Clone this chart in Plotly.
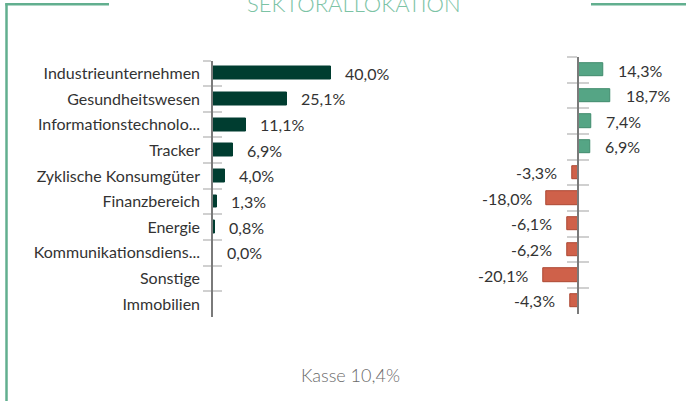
import plotly.graph_objects as go

W, H = 686, 401

categories = ["Industrieunternehmen", "Gesundheitswesen", "Informationstechnolo...",
              "Tracker", "Zyklische Konsumgüter", "Finanzbereich", "Energie",
              "Kommunikationsdiens...", "Sonstige", "Immobilien"]
fund_values = [40.0, 25.1, 11.1, 6.9, 4.0, 1.3, 0.8, 0.04, None, None]
diff_values = [14.3, 18.7, 7.4, 6.9, -3.3, -18.0, -6.1, -6.2, -20.1, -4.3]
title_text = "SEKTORALLOKATION"
cash_text = "Kasse 10,4%"

DARK = "#003d30"
GREEN = "#55a585"
GREEN_LINE = "#3f8b6c"
RED = "#cf614a"
RED_LINE = "#ad4833"
FRAME = "#62af8f"
TEXT = "#333333"
FONT = "Lato"

def px_x(p):
    return p / W

def px_y(p):
    return 1 - p / H

def fmt(v):
    return f"{v:.1f}".replace(".", ",") + "%"

n = len(categories)
fig = go.Figure()

fig.add_trace(go.Bar(
    x=fund_values, y=categories, orientation="h", xaxis="x", yaxis="y",
    marker=dict(color=DARK, line=dict(color=DARK, width=1)), width=0.5,
    hoverinfo="skip", showlegend=False))
fig.add_trace(go.Bar(
    x=diff_values, y=categories, orientation="h", xaxis="x2", yaxis="y2",
    marker=dict(color=[GREEN if v >= 0 else RED for v in diff_values],
                line=dict(color=[GREEN_LINE if v >= 0 else RED_LINE for v in diff_values], width=1)),
    width=0.52, hoverinfo="skip", showlegend=False))
fig.add_trace(go.Scatter(x=[None] * n, y=categories, xaxis="x", yaxis="y3",
                         mode="markers", hoverinfo="skip", showlegend=False))
fig.add_trace(go.Scatter(x=[None] * n, y=categories, xaxis="x2", yaxis="y4",
                         mode="markers", hoverinfo="skip", showlegend=False))

left_zero = 213
left_scale = 2.95
left_max = 45
right_zero = 578
right_scale = 1.75
right_max = 25

ydom_left = [px_y(317), px_y(60.5)]
ydom_right = [px_y(313.5), px_y(57.2)]

cat_common = dict(type="category", categoryorder="array", categoryarray=categories,
                  range=[n - 0.5, -0.5], tickson="boundaries", fixedrange=True)

TICKC = "#d0d0d0"
AXC = "#7a7a7a"

fig.update_layout(
    width=W, height=H, margin=dict(l=0, r=0, t=0, b=0),
    paper_bgcolor="white", plot_bgcolor="rgba(0,0,0,0)",
    font=dict(family=FONT, color=TEXT, size=16),
    bargap=0,
    xaxis=dict(domain=[px_x(left_zero), px_x(left_zero + left_scale * left_max)],
               range=[0, left_max], visible=False, fixedrange=True),
    yaxis=dict(domain=ydom_left, anchor="x", showline=True, linecolor=AXC, linewidth=1.5,
               ticks="outside", ticklen=8, tickcolor=TICKC, tickwidth=1.5,
               showgrid=False, tickfont=dict(size=16, color=TEXT, family=FONT),
               ticklabelstandoff=8, **cat_common),
    yaxis3=dict(overlaying="y", anchor="x", side="left", showline=False, ticks="inside",
                ticklen=9, tickcolor=TICKC, tickwidth=1.5, showgrid=False,
                showticklabels=False, **cat_common),
    xaxis2=dict(domain=[px_x(right_zero - right_scale * right_max), px_x(right_zero + right_scale * right_max)],
                range=[-right_max, right_max], visible=False, fixedrange=True),
    yaxis2=dict(domain=ydom_right, anchor="free", position=px_x(right_zero), showline=True,
                linecolor=AXC, linewidth=1.5, ticks="outside", ticklen=10,
                tickcolor=TICKC, tickwidth=1.5, showgrid=False, showticklabels=False,
                **cat_common),
    yaxis4=dict(overlaying="y2", anchor="free", position=px_x(right_zero), side="left",
                showline=False, ticks="inside", ticklen=10, tickcolor=TICKC, tickwidth=1.5,
                showgrid=False, showticklabels=False, **cat_common),
)

annotations = []
for c, v in zip(categories, fund_values):
    if v is None:
        continue
    annotations.append(dict(x=v, y=c, xref="x", yref="y", text=fmt(v), showarrow=False,
                            xanchor="left", yanchor="middle", xshift=12,
                            font=dict(size=16, color=TEXT, family=FONT)))
for c, v in zip(categories, diff_values):
    annotations.append(dict(x=v, y=c, xref="x2", yref="y2", text=fmt(v), showarrow=False,
                            xanchor="left" if v >= 0 else "right", yanchor="middle",
                            xshift=13 if v >= 0 else -13,
                            font=dict(size=16, color=TEXT, family=FONT)))
annotations.append(dict(x=px_x(354), y=px_y(14), xref="paper", yref="paper", text=title_text,
                        showarrow=False, xanchor="center", yanchor="bottom", yshift=-5,
                        font=dict(size=22, color="#7cc3a5", family=FONT, weight=300)))
annotations.append(dict(x=px_x(350), y=px_y(375), xref="paper", yref="paper", text=cash_text,
                        showarrow=False, xanchor="center", yanchor="middle",
                        font=dict(size=18, color="#6a6a6a", family=FONT, weight=300)))
fig.update_layout(annotations=annotations)

fig.update_layout(shapes=[
    dict(type="line", xref="paper", yref="paper", x0=px_x(6.5), x1=px_x(6.5), y0=px_y(3.2), y1=px_y(401),
         line=dict(color=FRAME, width=2.5)),
    dict(type="line", xref="paper", yref="paper", x0=px_x(5.3), x1=px_x(109), y0=px_y(4.3), y1=px_y(4.3),
         line=dict(color=FRAME, width=2.5)),
    dict(type="line", xref="paper", yref="paper", x0=px_x(591), x1=px_x(686), y0=px_y(4.3), y1=px_y(4.3),
         line=dict(color=FRAME, width=2.5)),
])

fig.write_html("out.html", config={"displayModeBar": False},
               post_script="document.body.style.margin='0';document.body.style.overflow='hidden';")
